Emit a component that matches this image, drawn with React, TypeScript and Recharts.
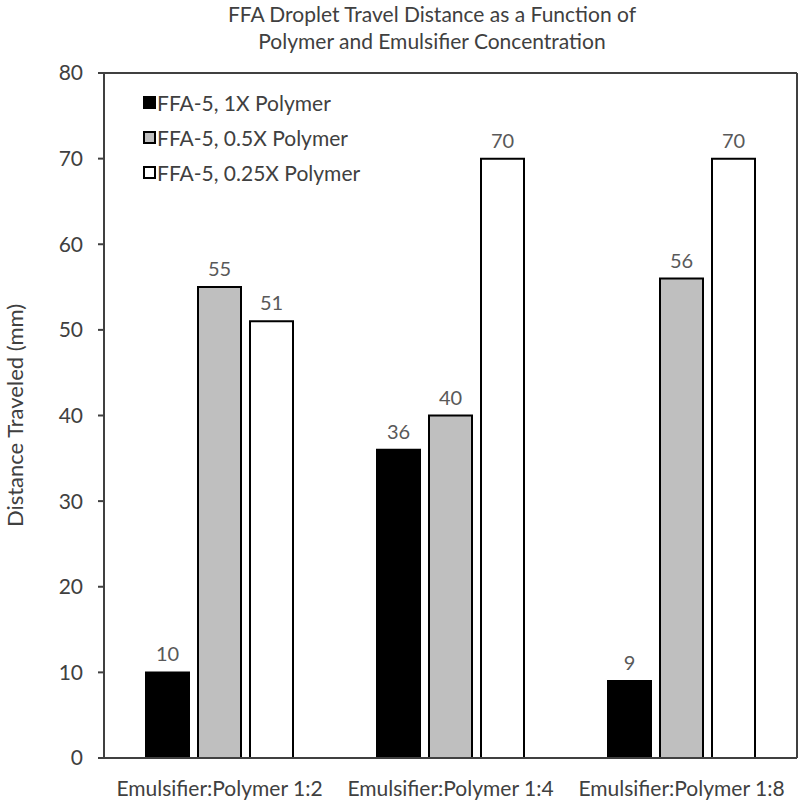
import React from 'react';
import { BarChart, Bar, XAxis, YAxis, LabelList, ReferenceLine, Label } from 'recharts';

const categories = ['Emulsifier:Polymer 1:2', 'Emulsifier:Polymer 1:4', 'Emulsifier:Polymer 1:8'];
const polymer1x = [10, 36, 9];
const polymer05x = [55, 40, 56];
const polymer025x = [51, 70, 70];
const yTicks = [0, 10, 20, 30, 40, 50, 60, 70, 80];

const seriesInfo = [
  { key: 'p1', name: 'FFA-5, 1X Polymer', fill: '#000000' },
  { key: 'p05', name: 'FFA-5, 0.5X Polymer', fill: '#bfbfbf' },
  { key: 'p025', name: 'FFA-5, 0.25X Polymer', fill: '#ffffff' },
];

const data = categories.map((c, i) => ({
  name: c,
  p1: polymer1x[i],
  p05: polymer05x[i],
  p025: polymer025x[i],
}));

const FONT = 'Lato, "Open Sans", sans-serif';
const TXT = '#404040';

function LegendBox() {
  return (
    <div
      style={{
        position: 'absolute',
        left: 143,
        top: 85,
        fontFamily: FONT,
        fontSize: 21,
        color: TXT,
      }}
    >
      {seriesInfo.map((s) => (
        <div key={s.key} style={{ display: 'flex', alignItems: 'center', height: 35 }}>
          <span
            style={{
              display: 'inline-block',
              width: 9,
              height: 9,
              border: '2px solid #000',
              background: s.fill,
              marginRight: 1,
            }}
          />
          <span>{s.name}</span>
        </div>
      ))}
    </div>
  );
}

export default function App() {
  return (
    <div style={{ position: 'absolute', left: 0, top: 0, width: 800, height: 801, background: '#fff' }}>
      <div
        style={{
          position: 'absolute',
          left: 212,
          width: 440,
          top: 0,
          textAlign: 'center',
          fontFamily: FONT,
          fontSize: 21,
          lineHeight: '27px',
          color: TXT,
        }}
      >
        FFA Droplet Travel Distance as a Function of
        <br />
        Polymer and Emulsifier Concentration
      </div>
      <BarChart
        width={800}
        height={801}
        data={data}
        margin={{ top: 73, right: 0, bottom: 0, left: 0 }}
        barSize={43}
        barGap={9}
      >
        <XAxis
          dataKey="name"
          height={43}
          tickLine={false}
          tickSize={0}
          tickMargin={23}
          axisLine={{ stroke: '#404040', strokeWidth: 2 }}
          tick={{ fill: TXT, fontSize: 21, fontFamily: FONT }}
        />
        <YAxis
          width={104}
          domain={[0, 80]}
          ticks={yTicks}
          interval={0}
          tickSize={6}
          tickMargin={15}
          axisLine={{ stroke: '#404040', strokeWidth: 2 }}
          tickLine={{ stroke: '#404040', strokeWidth: 2 }}
          tick={{ fill: TXT, fontSize: 21, fontFamily: FONT }}
        >
          <Label
            content={(props: any) => {
              const vb = props.viewBox || {};
              const cy = vb.y + vb.height / 2;
              return (
                <text
                  x={23}
                  y={cy}
                  transform={`rotate(-90, 23, ${cy})`}
                  textAnchor="middle"
                  fill={TXT}
                  fontSize={22}
                  fontFamily={FONT}
                >
                  Distance Traveled (mm)
                </text>
              );
            }}
          />
        </YAxis>
        <YAxis
          yAxisId="right"
          orientation="right"
          width={3}
          domain={[0, 80]}
          tick={false}
          tickLine={false}
          axisLine={{ stroke: '#404040', strokeWidth: 2 }}
        />
        <ReferenceLine y={80} stroke="#404040" strokeWidth={2} />
        {seriesInfo.map((s) => (
          <Bar
            key={s.key}
            dataKey={s.key}
            name={s.name}
            fill={s.fill}
            stroke="#000"
            strokeWidth={2}
            isAnimationActive={false}
          >
            <LabelList dataKey={s.key} position="top" offset={11} fill="#595959" fontSize={20} fontFamily={FONT} />
          </Bar>
        ))}
      </BarChart>
      <LegendBox />
    </div>
  );
}
